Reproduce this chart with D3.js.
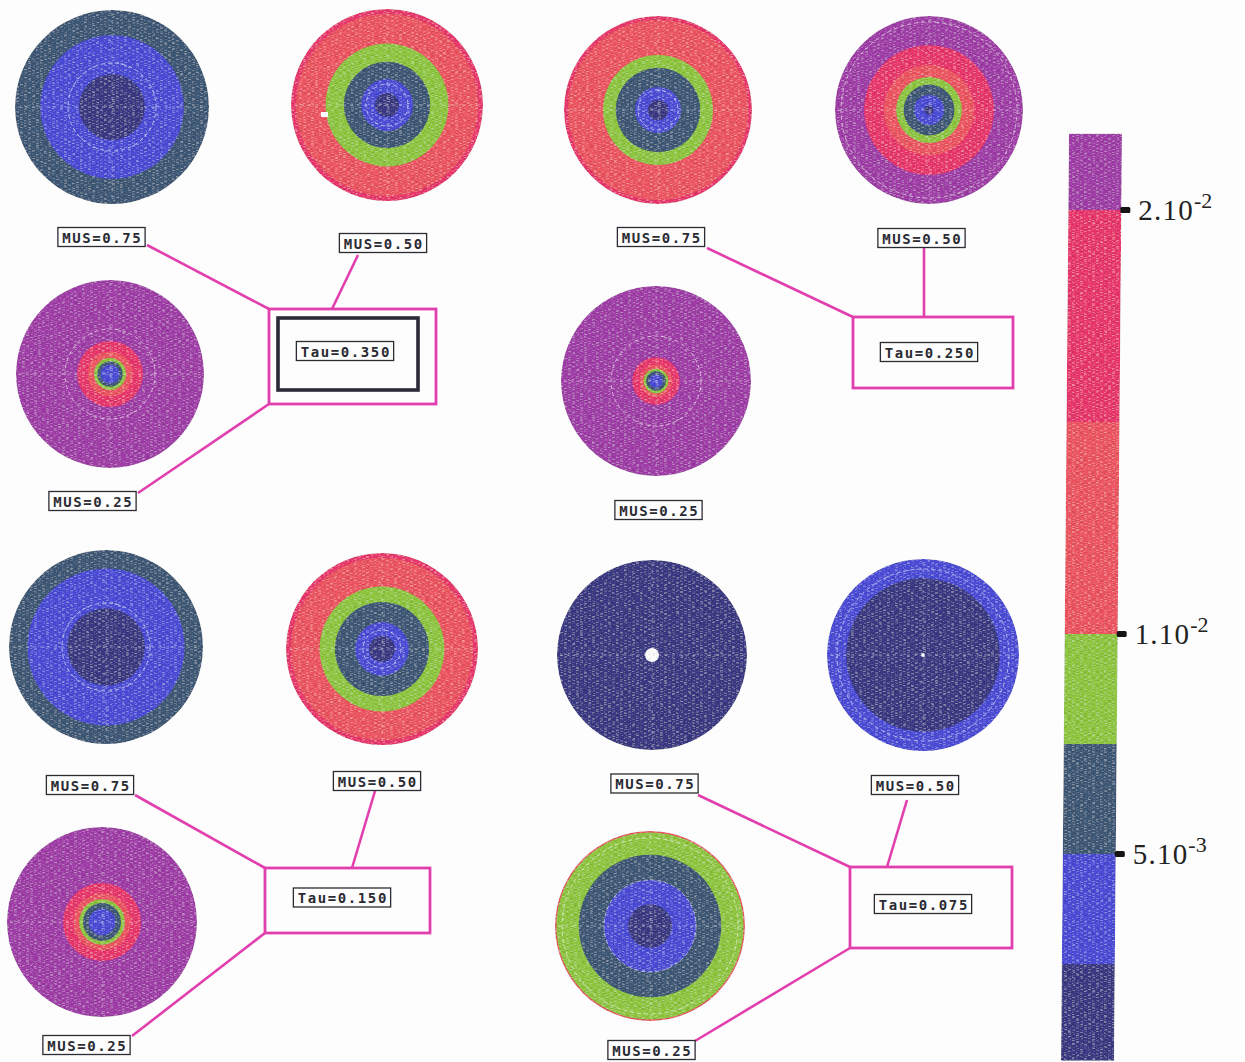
<!DOCTYPE html>
<html>
<head>
<meta charset="utf-8">
<script src="https://cdn.jsdelivr.net/npm/d3@7"></script>
<style>
  html, body { margin: 0; padding: 0; background: #fdfdfd; }
  svg { display: block; }
  .lbl { font-family: "DejaVu Sans Mono", monospace; font-weight: bold; font-size: 14px; letter-spacing: 1.6px; fill: #2b2b33; }
  .tick { font-family: "Liberation Serif", "Times New Roman", serif; fill: #222; }
</style>
</head>
<body>
<svg id="chart" width="1245" height="1062"></svg>
<script>
// ---- values ----
const tauLabels = ["Tau=0.350", "Tau=0.250", "Tau=0.150", "Tau=0.075"];
const musLabels = ["MUS=0.75", "MUS=0.50", "MUS=0.25"];

// colour classes of the flux (band edges) and their colours
const bandEdges  = [0.0003, 0.0025, 0.005, 0.0075, 0.01, 0.015, 0.02, 0.0218];
const bandColors = ["#3a3984", "#4a4bd6", "#3d5876", "#8ec63c", "#ec5460", "#e8356c", "#a03ca8"];

// colour bar ticks
const tickValues   = [0.02, 0.01, 0.005];
const tickMantissa = ["2.10", "1.10", "5.10"];
const tickExponent = ["-2", "-2", "-3"];

// rings of each disc: [outer radius as fraction of disc radius, flux value]; null = no signal
const ringsTau350 = [
  [[1.00, 0.006], [0.74, 0.004], [0.34, 0.0012]],
  [[1.00, 0.017], [0.95, 0.012], [0.64, 0.0085], [0.45, 0.006], [0.27, 0.004], [0.125, 0.0012]],
  [[1.00, 0.021], [0.35, 0.017], [0.24, 0.012], [0.17, 0.0085], [0.135, 0.006], [0.10, 0.004]]
];
const ringsTau250 = [
  [[1.00, 0.017], [0.96, 0.012], [0.585, 0.0085], [0.45, 0.006], [0.245, 0.004], [0.11, 0.0012]],
  [[1.00, 0.021], [0.69, 0.017], [0.48, 0.012], [0.35, 0.0085], [0.27, 0.006], [0.16, 0.004], [0.05, 0.0012]],
  [[1.00, 0.021], [0.25, 0.017], [0.17, 0.012], [0.13, 0.0085], [0.105, 0.006], [0.07, 0.004]]
];
const ringsTau150 = [
  [[1.00, 0.006], [0.81, 0.004], [0.40, 0.0012]],
  [[1.00, 0.017], [0.95, 0.012], [0.65, 0.0085], [0.49, 0.006], [0.28, 0.004], [0.135, 0.0012]],
  [[1.00, 0.021], [0.41, 0.017], [0.30, 0.012], [0.24, 0.0085], [0.20, 0.006], [0.14, 0.004]]
];
const ringsTau075 = [
  [[1.00, 0.0012], [0.074, null]],
  [[1.00, 0.004], [0.80, 0.0012], [0.02, null]],
  [[1.00, 0.012], [0.985, 0.0085], [0.75, 0.006], [0.485, 0.004], [0.23, 0.0012]]
];
const ringSets = [ringsTau350, ringsTau250, ringsTau150, ringsTau075];

// ---- page layout of the four groups ----
const layout = [
  { discs: [{cx:112, cy:107, r:97, grid:[44]}, {cx:387, cy:105, r:96, grid:[21]}, {cx:110, cy:374, r:94, grid:[45]}],
    mus: [[101.5, 237], [383, 243], [92.5, 501]],
    box: [269, 309, 436, 404], inner: [278, 318, 418, 390], tau: [345, 351],
    links: [[147, 245, 269, 309], [358, 255, 332, 309], [269, 404, 138, 493]] },
  { discs: [{cx:658, cy:110, r:94, grid:[20]}, {cx:929, cy:110, r:94, grid:[88]}, {cx:656, cy:381, r:95, grid:[45]}],
    mus: [[661, 237], [921.5, 238], [658.5, 510]],
    box: [853, 317, 1013, 388], inner: null, tau: [929, 352],
    links: [[707, 248, 853, 317], [924, 248, 924, 317]] },
  { discs: [{cx:106, cy:647, r:97, grid:[44]}, {cx:382, cy:649, r:96, grid:[19]}, {cx:102, cy:922, r:95, grid:[]}],
    mus: [[90, 785], [377, 781], [86.5, 1045]],
    box: [265, 868, 430, 933], inner: null, tau: [342, 897.5],
    links: [[135, 795, 265, 868], [375, 791, 352, 868], [265, 933, 132, 1036]] },
  { discs: [{cx:652, cy:655, r:95, grid:[]}, {cx:923, cy:655, r:96, grid:[86]}, {cx:650, cy:926, r:95, grid:[46, 88]}],
    mus: [[654.5, 783.5], [915, 785], [651.5, 1050]],
    box: [850, 867, 1012, 948], inner: null, tau: [923, 904],
    links: [[698, 795, 850, 867], [907, 800, 887, 867], [850, 948, 695, 1041]] }
];

const PINK = "#e23fae";
const svg = d3.select("#chart");

// speckled print texture (fine, mostly horizontal grain)
const defs = svg.append("defs");
const f = defs.append("filter").attr("id", "grain")
  .attr("x", "0%").attr("y", "0%").attr("width", "100%").attr("height", "100%");
f.append("feTurbulence").attr("type", "fractalNoise").attr("baseFrequency", "0.25 1.0")
  .attr("numOctaves", 2).attr("seed", 7).attr("result", "n");
f.append("feColorMatrix").attr("in", "n").attr("type", "matrix")
  .attr("values", "0.5 0 0 0 0.25  0.5 0 0 0 0.25  0.5 0 0 0 0.25  0 0 0 0 1").attr("result", "g");
f.append("feBlend").attr("in", "SourceGraphic").attr("in2", "g").attr("mode", "overlay").attr("result", "b");
f.append("feComposite").attr("in", "b").attr("in2", "SourceGraphic").attr("operator", "in");

const color = d3.scaleThreshold().domain(bandEdges.slice(1, -1)).range(bandColors);
const fillOf = v => v === null ? "#fdfdfd" : color(v);

// ---- discs ----
ringSets.forEach((set, p) => {
  const L = layout[p];
  set.forEach((rings, k) => {
    const d = L.discs[k];
    const rs = d3.scaleLinear().domain([0, 1]).range([0, d.r]);
    const g = svg.append("g").attr("transform", `translate(${d.cx},${d.cy})`);
    const body = g.append("g").attr("filter", "url(#grain)");
    body.selectAll("circle")
      .data(rings.slice().sort((a, b) => b[0] - a[0]))
      .join("circle")
      .attr("r", r => rs(r[0]))
      .attr("fill", r => fillOf(r[1]));
    // measurement grid: cross hairs and a dashed circle
    const grid = g.append("g").attr("stroke", "#ffffff").attr("stroke-opacity", 0.4)
      .attr("stroke-width", 1).attr("fill", "none").attr("stroke-dasharray", "3 4");
    grid.append("line").attr("x1", -d.r + 3).attr("x2", d.r - 3).attr("y1", 0).attr("y2", 0);
    grid.append("line").attr("y1", -d.r + 3).attr("y2", d.r - 3).attr("x1", 0).attr("x2", 0);
    grid.selectAll("circle").data(d.grid).join("circle").attr("r", v => v)
      .attr("stroke-opacity", 0.6).attr("stroke-dasharray", "4 3");
  });
});
// dropout pixel in the tau=0.350 / mus=0.50 map
svg.append("rect").attr("x", 321).attr("y", 112).attr("width", 7).attr("height", 5).attr("fill", "#fdfdfd");

// ---- connectors, tau boxes and labels ----
function label(x, y, text) {
  const t = svg.append("text").attr("class", "lbl").attr("x", x + 0.8).attr("y", y + 0.5)
    .attr("text-anchor", "middle").attr("dominant-baseline", "central").text(text);
  const w = t.node().getComputedTextLength() + 7;
  svg.insert("rect", () => t.node())
    .attr("x", x - w / 2).attr("y", y - 9.5).attr("width", w).attr("height", 19)
    .attr("fill", "#fdfdfd").attr("stroke", "#2b2b33").attr("stroke-width", 1.3);
}

layout.forEach((L, p) => {
  L.links.forEach(l => {
    svg.append("line").attr("x1", l[0]).attr("y1", l[1]).attr("x2", l[2]).attr("y2", l[3])
      .attr("stroke", PINK).attr("stroke-width", 2.6);
  });
  const b = L.box;
  svg.append("rect").attr("x", b[0]).attr("y", b[1]).attr("width", b[2] - b[0]).attr("height", b[3] - b[1])
    .attr("fill", "#fdfdfd").attr("stroke", PINK).attr("stroke-width", 2.8);
  if (L.inner) {
    const i = L.inner;
    svg.append("rect").attr("x", i[0]).attr("y", i[1]).attr("width", i[2] - i[0]).attr("height", i[3] - i[1])
      .attr("fill", "none").attr("stroke", "#2a2a3a").attr("stroke-width", 3.6);
  }
  label(L.tau[0], L.tau[1], tauLabels[p]);
  L.mus.forEach((m, k) => label(m[0], m[1], musLabels[k]));
});

// ---- colour bar ----
const yBar = d3.scaleLinear().domain([0.005, 0.01, 0.02]).range([854, 634, 210]);
const barLeft = d3.scaleLinear().domain([132, 1062]).range([1069, 1061]);
const BAR_W = 53;
const bands = bandColors.map((c, i) => ({ lo: bandEdges[i], hi: bandEdges[i + 1], c }));
const barG = svg.append("g").attr("filter", "url(#grain)");
barG.selectAll("path").data(bands).join("path")
  .attr("fill", d => d.c)
  .attr("d", d => {
    const y0 = yBar(d.hi), y1 = yBar(d.lo);
    return d3.line()([[barLeft(y0), y0], [barLeft(y0) + BAR_W, y0], [barLeft(y1) + BAR_W, y1], [barLeft(y1), y1]]) + "Z";
  });

tickValues.forEach((v, i) => {
  const y = yBar(v);
  const xr = barLeft(y) + BAR_W;
  svg.append("rect").attr("x", xr - 1).attr("y", y - 3).attr("width", 10).attr("height", 6)
    .attr("rx", 1.5).attr("fill", "#151515");
  const t = svg.append("text").attr("class", "tick").attr("x", xr + 17).attr("y", y + 10)
    .attr("font-size", 29).attr("letter-spacing", 1.2);
  t.append("tspan").text(tickMantissa[i]);
  t.append("tspan").attr("dy", -12).attr("font-size", 22).attr("letter-spacing", 0).text(tickExponent[i]);
});
</script>
</body>
</html>
